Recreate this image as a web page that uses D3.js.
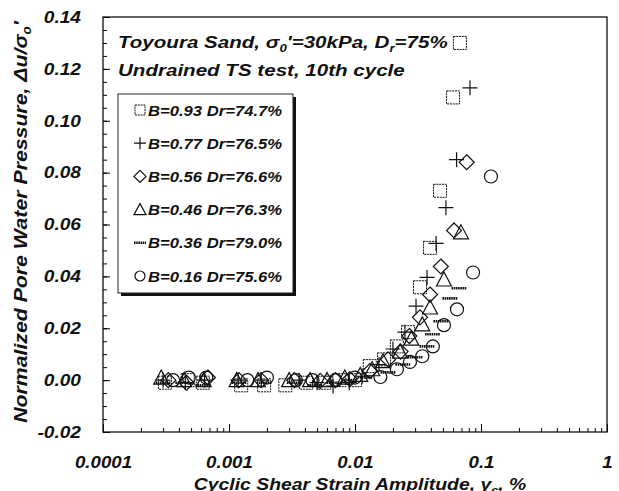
<!DOCTYPE html>
<html><head><meta charset="utf-8">
<script src="https://cdn.jsdelivr.net/npm/d3@7"></script>
<style>
body{margin:0;background:#fff}
text{font-family:"Liberation Sans",Arial,sans-serif;font-weight:bold;font-style:italic;fill:#111}
</style>
</head><body><svg id="c" width="619" height="491"></svg>
<script>
// ---- data ----
const xTickValues = [0.0001, 0.001, 0.01, 0.1, 1];
const xTickLabels = ["0.0001", "0.001", "0.01", "0.1", "1"];
const yTickValues = [-0.02, 0.00, 0.02, 0.04, 0.06, 0.08, 0.10, 0.12, 0.14];
const yTickLabels = ["-0.02", "0.00", "0.02", "0.04", "0.06", "0.08", "0.10", "0.12", "0.14"];

const sqStrain = [0.00031, 0.00047, 0.00062, 0.00125, 0.0019, 0.0028, 0.0041, 0.0057, 0.0075, 0.0100, 0.0131, 0.0170, 0.0215, 0.0264, 0.0328, 0.0394, 0.0473, 0.0600, 0.0680];
const sqPWP    = [-0.001, 0.000, -0.001, -0.002, -0.002, -0.002, -0.001, -0.001, 0.000, 0.000, 0.0054, 0.008, 0.013, 0.0185, 0.0358, 0.051, 0.073, 0.109, 0.130];

const plStrain = [0.00030, 0.00045, 0.00064, 0.00118, 0.0018, 0.0036, 0.0050, 0.0067, 0.0090, 0.0114, 0.0155, 0.0200, 0.0249, 0.0305, 0.0373, 0.0440, 0.0527, 0.0640, 0.0818];
const plPWP    = [0.000, -0.001, 0.000, 0.000, 0.000, 0.000, -0.001, -0.0023, -0.001, 0.0015, 0.006, 0.012, 0.0185, 0.0285, 0.0396, 0.0527, 0.0665, 0.085, 0.1127];

const dmStrain = [0.00033, 0.00046, 0.00068, 0.0012, 0.0018, 0.0033, 0.0053, 0.0070, 0.0091, 0.0131, 0.0183, 0.0230, 0.0270, 0.0328, 0.0394, 0.0480, 0.0611, 0.0770];
const dmPWP    = [0.000, -0.001, 0.001, 0.000, 0.000, 0.000, -0.0003, 0.000, 0.0004, 0.0035, 0.008, 0.011, 0.017, 0.0242, 0.033, 0.0438, 0.0577, 0.084];

const trStrain = [0.00029, 0.00044, 0.00063, 0.00115, 0.0017, 0.0030, 0.0044, 0.0060, 0.0083, 0.0110, 0.0137, 0.0167, 0.0228, 0.0280, 0.0342, 0.0394, 0.0508, 0.0693];
const trPWP    = [0.001, 0.000, 0.000, 0.000, 0.000, 0.000, 0.000, 0.000, 0.001, 0.002, 0.0042, 0.0073, 0.011, 0.016, 0.0215, 0.028, 0.0388, 0.057];

const dsStrain = [0.00030, 0.00043, 0.00062, 0.00120, 0.0019, 0.0033, 0.0048, 0.0068, 0.0090, 0.0120, 0.0183, 0.0240, 0.0300, 0.0373, 0.0412, 0.0480, 0.0567, 0.0669];
const dsPWP    = [-0.001, -0.001, -0.002, -0.001, -0.001, -0.001, -0.002, -0.001, 0.000, 0.001, 0.003, 0.006, 0.0088, 0.013, 0.0177, 0.0227, 0.0315, 0.0354];

const ciStrain = [0.00036, 0.00048, 0.00066, 0.00140, 0.0020, 0.0034, 0.0046, 0.0070, 0.0100, 0.0159, 0.0215, 0.0273, 0.0342, 0.0415, 0.0508, 0.0645, 0.0865, 0.1200];
const ciPWP    = [0.000, 0.001, 0.001, 0.000, 0.001, 0.000, 0.000, 0.000, 0.001, 0.0012, 0.0042, 0.007, 0.0092, 0.013, 0.0212, 0.0273, 0.0415, 0.0785];

const legendLabels = ["B=0.93 Dr=74.7%", "B=0.77 Dr=76.5%", "B=0.56 Dr=76.6%", "B=0.46 Dr=76.3%", "B=0.36 Dr=79.0%", "B=0.16 Dr=75.6%"];
const symbolKinds  = ["square", "plus", "diamond", "triangle", "dash", "circle"];

const series = [
  {kind: "square",   xs: sqStrain, ys: sqPWP},
  {kind: "plus",     xs: plStrain, ys: plPWP},
  {kind: "diamond",  xs: dmStrain, ys: dmPWP},
  {kind: "triangle", xs: trStrain, ys: trPWP},
  {kind: "dash",     xs: dsStrain, ys: dsPWP},
  {kind: "circle",   xs: ciStrain, ys: ciPWP}
];

// ---- layout ----
const W = 619, H = 491;
const m = {l: 103, t: 17, r: 12, b: 59};
const svg = d3.select("#c");
const x = d3.scaleLog().domain([1e-4, 1]).range([m.l, W - m.r]);
const y = d3.scaleLinear().domain([-0.02, 0.14]).range([H - m.b, m.t]);

function symPath(kind, s) {
  const h = s / 2;
  switch (kind) {
    case "square":   return `M${-h},${-h}H${h}V${h}H${-h}Z`;
    case "plus":     return `M${-h - 1},0H${h + 1}M0,${-h - 1}V${h + 1}`;
    case "diamond":  return `M0,${-h - 1}L${h + 1},0L0,${h + 1}L${-h - 1},0Z`;
    case "triangle": return `M0,${-h - 1}L${h + 1},${h}L${-h - 1},${h}Z`;
    case "dash":     return `M${-h - 1},0H${h + 1}`;
    case "circle":   return d3.arc()({innerRadius: 0, outerRadius: h, startAngle: 0, endAngle: 2 * Math.PI});
  }
}
function styleSym(sel, kind) {
  sel.attr("fill", "none").attr("stroke", "#111")
     .attr("stroke-width", kind === "dash" ? 2.6 : (kind === "square" ? 1 : 1.2))
     .attr("stroke-dasharray", kind === "dash" ? "1.6,0.6" : (kind === "square" ? "2,0.8" : null));
}
// horizontally stretched text placed at (px,py)
function sText(px, py, size, sx, anchor) {
  return svg.append("g").attr("transform", `translate(${px},${py}) scale(${sx},1)`)
    .append("text").attr("text-anchor", anchor || "start").style("font-size", size + "px");
}

// ---- axes ----
const yMinor = d3.range(-0.02, 0.1401, 0.005);
svg.append("g").attr("transform", `translate(${m.l},0)`)
  .call(d3.axisLeft(y).tickValues(yMinor).tickSize(-4).tickFormat(""))
  .call(g => g.select(".domain").remove());
svg.append("g").attr("transform", `translate(${m.l},0)`)
  .call(d3.axisLeft(y).tickValues(yTickValues).tickSize(-7).tickPadding(22)
        .tickFormat((d, i) => yTickLabels[i]))
  .call(g => g.select(".domain").remove())
  .call(g => g.selectAll("text").style("font-size", "16.5px").attr("fill", "#111")
        .attr("x", 0).attr("transform", "translate(-22,0) scale(1.16,1)"));

const xMinor = [];
[1e-4, 1e-3, 1e-2, 1e-1].forEach(dec => { for (let k = 2; k <= 9; k++) xMinor.push(dec * k); });
svg.append("g").attr("transform", `translate(0,${H - m.b})`)
  .call(d3.axisBottom(x).tickValues(xMinor).tickSize(-4).tickFormat(""))
  .call(g => g.select(".domain").remove());
svg.append("g").attr("transform", `translate(0,${H - m.b})`)
  .call(d3.axisBottom(x).tickValues(xTickValues).tickSize(-8).tickPadding(24)
        .tickFormat((d, i) => xTickLabels[i]))
  .call(g => g.select(".domain").remove())
  .call(g => g.selectAll("text").style("font-size", "17px").attr("fill", "#111")
        .attr("transform", "scale(1.1,1)"));

// frame
svg.append("rect").attr("x", m.l).attr("y", m.t)
  .attr("width", W - m.r - m.l).attr("height", H - m.b - m.t)
  .attr("fill", "none").attr("stroke", "#111").attr("stroke-width", 1.3);

// ---- data marks ----
series.forEach(s => {
  const pts = s.xs.map((v, i) => [v, s.ys[i]]);
  const sel = svg.append("g").selectAll("path").data(pts).join("path")
    .attr("d", symPath(s.kind, 13))
    .attr("transform", d => `translate(${x(d[0])},${y(d[1])})`);
  styleSym(sel, s.kind);
});

// ---- annotation title ----
const t1 = sText(118, 48, 17, 1.21);
t1.append("tspan").text("Toyoura Sand, σ");
t1.append("tspan").attr("dy", 4).style("font-size", "11px").text("0");
t1.append("tspan").attr("dy", -4).text("'=30kPa, D");
t1.append("tspan").attr("dy", 4).style("font-size", "11px").text("r");
t1.append("tspan").attr("dy", -4).text("=75%");
sText(118, 76, 17, 1.21).text("Undrained TS test, 10th cycle");

// ---- legend ----
const lg = {x: 118, y: 94, w: 175, h: 199};
svg.append("rect").attr("x", lg.x + 3).attr("y", lg.y + 3).attr("width", lg.w).attr("height", lg.h).attr("fill", "#111");
svg.append("rect").attr("x", lg.x).attr("y", lg.y).attr("width", lg.w).attr("height", lg.h)
  .attr("fill", "#fff").attr("stroke", "#222").attr("stroke-width", 1);
legendLabels.forEach((lab, i) => {
  const cy = lg.y + 16 + i * 33.2;
  const p = svg.append("path").attr("d", symPath(symbolKinds[i], 10)).attr("transform", `translate(140,${cy})`);
  styleSym(p, symbolKinds[i]);
  sText(148, cy + 5.5, 15, 1.11).text(lab);
});

// ---- axis titles ----
const xl = sText(360, 490, 17, 1.14, "middle");
xl.append("tspan").text("Cyclic Shear Strain Amplitude, γ");
xl.append("tspan").attr("dy", 4).style("font-size", "11px").text("c");
xl.append("tspan").attr("dy", -4).text(", %");

const yl = svg.append("g").attr("transform", "translate(27,222) rotate(-90) scale(1.12,1)")
  .append("text").attr("text-anchor", "middle").style("font-size", "19px");
yl.append("tspan").text("Normalized Pore Water Pressure, Δu/σ");
yl.append("tspan").attr("dy", 4).style("font-size", "12px").text("o");
yl.append("tspan").attr("dy", -4).text("'");
</script>
</body></html>
